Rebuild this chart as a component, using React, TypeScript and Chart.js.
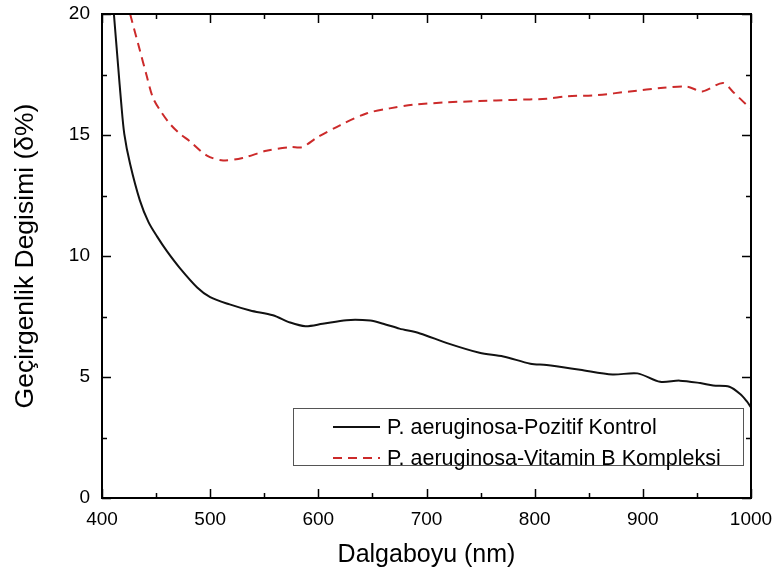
import React, { useEffect, useRef } from "react";
import { Chart, registerables } from "chart.js";

Chart.register(...registerables);

const FONT = "'Liberation Sans', Arial, Helvetica, sans-serif";

const xTitle = "Dalgaboyu (nm)";
const yTitle = "Geçirgenlik Degisimi (δ%)";

const seriesLabels = [
  "P. aeruginosa-Pozitif Kontrol",
  "P. aeruginosa-Vitamin B Kompleksi",
];

const blackX = [411, 415, 417.6, 420.6, 426, 435, 443, 451, 460, 472, 488, 500, 518, 537, 558, 574, 588, 604, 626, 648, 660, 675, 694, 719, 749, 771, 796, 811, 842, 872, 895, 916, 934, 953, 965, 980, 990, 996, 1000];
const blackY = [20, 17.8, 16.4, 15.05, 13.8, 12.3, 11.4, 10.8, 10.2, 9.5, 8.7, 8.3, 8.0, 7.75, 7.55, 7.25, 7.1, 7.2, 7.35, 7.33, 7.2, 7.0, 6.8, 6.4, 6.0, 5.85, 5.55, 5.5, 5.3, 5.1, 5.15, 4.8, 4.85, 4.75, 4.65, 4.6, 4.3, 4.0, 3.75];

const redX = [426, 435, 441, 447, 454, 463, 472, 481, 497, 512, 530, 552, 574, 585, 599, 620, 645, 666, 688, 719, 749, 780, 811, 830, 858, 888, 919, 941, 955, 974, 983, 997, 1000];
const redY = [20, 18.5, 17.5, 16.55, 16.0, 15.45, 15.05, 14.75, 14.15, 13.95, 14.05, 14.35, 14.5, 14.5, 14.9, 15.4, 15.9, 16.1, 16.25, 16.35, 16.4, 16.45, 16.5, 16.6, 16.65, 16.8, 16.95, 17.0, 16.8, 17.15, 16.8, 16.2, 16.1];

const xMin = 400, xMax = 1000, xMajor = 100, xMinor = 50;
const yMin = 0, yMax = 20, yMajor = 5, yMinor = 2.5;

const frameAndLegend = {
  id: "frameAndLegend",
  afterDatasetsDraw(chart: any) {
    const { ctx, chartArea } = chart;
    const { left, right, top, bottom } = chartArea;
    const xs = chart.scales.x;
    const ys = chart.scales.y;
    ctx.save();
    ctx.strokeStyle = "#000";
    ctx.lineWidth = 2;
    ctx.strokeRect(left, top, right - left, bottom - top);
    ctx.lineWidth = 1.5;
    ctx.beginPath();
    for (let v = xMin; v <= xMax; v += xMinor) {
      const len = v % xMajor === 0 ? 9 : 5;
      const px = Math.round(xs.getPixelForValue(v)) + 0.5;
      ctx.moveTo(px, bottom);
      ctx.lineTo(px, bottom - len);
      ctx.moveTo(px, top);
      ctx.lineTo(px, top + len);
    }
    for (let v = yMin; v <= yMax; v += yMinor) {
      const len = v % yMajor === 0 ? 9 : 5;
      const py = Math.round(ys.getPixelForValue(v)) + 0.5;
      ctx.moveTo(left, py);
      ctx.lineTo(left + len, py);
      ctx.moveTo(right, py);
      ctx.lineTo(right - len, py);
    }
    ctx.stroke();

    // legend box
    const bw = 450, bh = 57;
    const bx = right - 8 - bw, by = bottom - 90;
    ctx.fillStyle = "#fff";
    ctx.fillRect(bx, by, bw, bh);
    ctx.strokeStyle = "#555";
    ctx.lineWidth = 1;
    ctx.strokeRect(bx + 0.5, by + 0.5, bw, bh);
    ctx.font = `21.5px ${FONT}`;
    ctx.textBaseline = "middle";
    ctx.textAlign = "left";
    chart.data.datasets.forEach((ds: any, i: number) => {
      const cy = by + 19 + i * 31;
      ctx.strokeStyle = ds.borderColor;
      ctx.lineWidth = 2;
      ctx.setLineDash(ds.borderDash || []);
      ctx.beginPath();
      ctx.moveTo(bx + 40, cy);
      ctx.lineTo(bx + 87, cy);
      ctx.stroke();
      ctx.setLineDash([]);
      ctx.fillStyle = "#000";
      ctx.fillText(ds.label, bx + 94, cy + 1);
    });
    ctx.restore();
  },
};

export default function App() {
  const ref = useRef<HTMLCanvasElement | null>(null);
  useEffect(() => {
    if (!ref.current) return;
    const chart = new Chart(ref.current, {
      type: "line",
      data: {
        datasets: [
          {
            label: seriesLabels[0],
            data: blackX.map((x, i) => ({ x, y: blackY[i] })),
            borderColor: "#111",
            borderWidth: 2,
            pointRadius: 0,
            tension: 0.3,
            fill: false,
          },
          {
            label: seriesLabels[1],
            data: redX.map((x, i) => ({ x, y: redY[i] })),
            borderColor: "#cc2a2a",
            borderWidth: 2,
            borderDash: [9, 6],
            pointRadius: 0,
            tension: 0.3,
            fill: false,
          },
        ],
      },
      options: {
        responsive: false,
        animation: false,
        devicePixelRatio: 1,
        layout: { padding: { left: 0, top: 14, right: 25, bottom: 0 } },
        plugins: {
          legend: { display: false },
          tooltip: { enabled: false },
        },
        scales: {
          x: {
            type: "linear",
            min: xMin,
            max: xMax,
            grid: { display: false, drawTicks: false },
            border: { display: false },
            ticks: {
              stepSize: xMajor,
              padding: 10,
              color: "#000",
              font: { family: FONT, size: 19 },
              autoSkip: false,
              maxRotation: 0,
              callback: (v: any) => String(v),
            },
            title: {
              display: true,
              text: xTitle,
              color: "#000",
              font: { family: FONT, size: 25 },
              padding: { top: 0, bottom: 4 },
            },
            afterFit: (s: any) => {
              s.height = 76;
              s.paddingLeft = 0;
              s.paddingRight = 0;
            },
          },
          y: {
            type: "linear",
            min: yMin,
            max: yMax,
            grid: { display: false, drawTicks: false },
            border: { display: false },
            ticks: {
              stepSize: yMajor,
              padding: 12,
              color: "#000",
              font: { family: FONT, size: 19 },
              callback: (v: any) => String(v),
            },
            title: {
              display: true,
              text: yTitle,
              color: "#000",
              font: { family: FONT, size: 26.5 },
              padding: { top: 10, bottom: 0 },
            },
            afterFit: (s: any) => {
              s.width = 102;
              s.paddingTop = 0;
              s.paddingBottom = 0;
            },
          },
        },
      },
      plugins: [frameAndLegend],
    });
    return () => chart.destroy();
  }, []);
  return (
    <div style={{ position: "absolute", left: 0, top: 0, width: 776, height: 574, background: "#fff" }}>
      <canvas ref={ref} width={776} height={574} />
    </div>
  );
}
